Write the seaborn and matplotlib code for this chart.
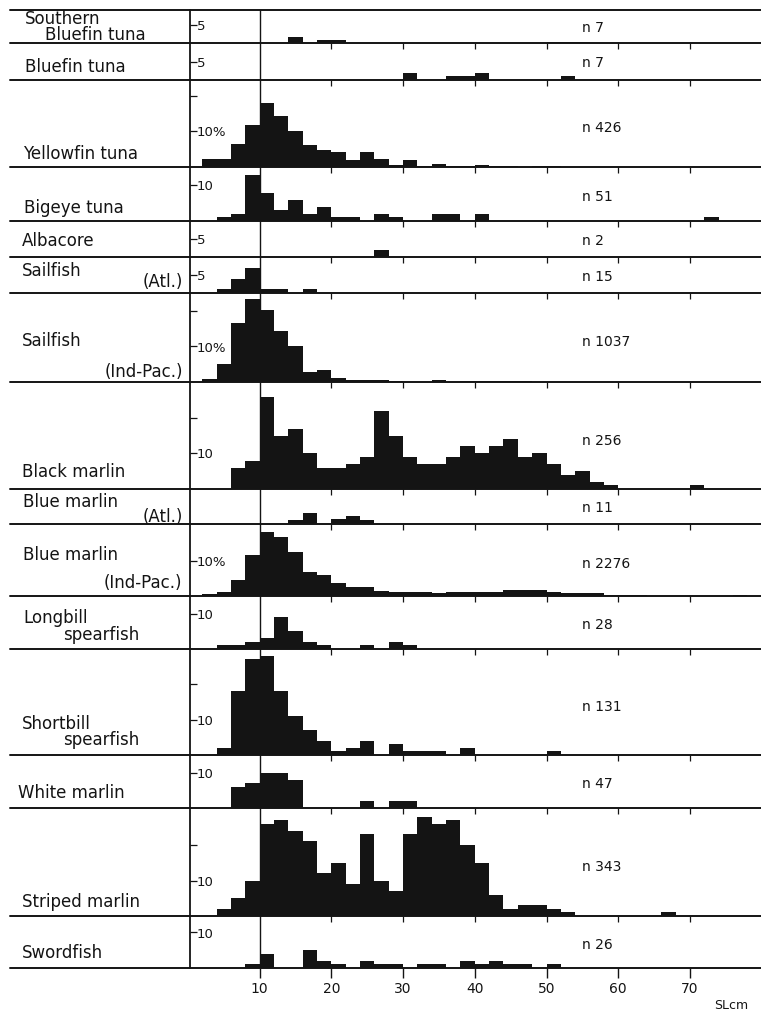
import numpy as np
import pandas as pd
import matplotlib.pyplot as plt
import seaborn as sns

# length classes are 2 cm wide, values are given at the class start (cm)
# small samples are counts, the three big ones ("10%") are percent
sbt_bins = [14, 18, 20, 50, 52, 54]
sbt_vals = [1.6, 0.8, 0.8, 0.4, 0.4, 0.4]

bft_bins = [30, 36, 38, 40, 52]
bft_vals = [2, 1, 1, 2, 1]

yft_bins = [2, 4, 6, 8, 10, 12, 14, 16, 18, 20, 22, 24, 26, 28, 30, 32, 34, 36, 38, 40, 42, 44, 48, 50]
yft_vals = [2.2, 2.2, 6.4, 11.8, 17.9, 14.4, 10.1, 6.2, 4.7, 4.1, 2.0, 4.1, 2.3, 0.6, 1.9, 0.3, 0.9,
            0.15, 0.15, 0.65, 0.2, 0.2, 0.3, 0.3]

bet_bins = [4, 6, 8, 10, 12, 14, 16, 18, 20, 22, 26, 28, 34, 36, 40, 72]
bet_vals = [1, 2, 13, 8, 3, 6, 2, 4, 1, 1, 2, 1, 2, 2, 2, 1]

alb_bins = [26]
alb_vals = [2]

sfa_bins = [4, 6, 8, 10, 12, 16]
sfa_vals = [1, 4, 7, 1, 1, 1]

sfp_bins = [2, 4, 6, 8, 10, 12, 14, 16, 18, 20, 22, 24, 26, 28, 30, 32, 34, 36, 38, 40, 42, 44, 46]
sfp_vals = [0.9, 5.1, 16.7, 23.3, 20.3, 14.5, 10.0, 2.9, 3.4, 1.2, 0.6, 0.6, 0.6, 0.4, 0.1, 0.1,
            0.6, 0.1, 0.3, 0.3, 0.3, 0.3, 0.3]

blm_bins = [6, 8, 10, 12, 14, 16, 18, 20, 22, 24, 26, 28, 30, 32, 34, 36, 38, 40, 42, 44, 46, 48,
            50, 52, 54, 56, 58, 70]
blm_vals = [6, 8, 26, 15, 17, 10, 6, 6, 7, 9, 22, 15, 9, 7, 7, 9, 12, 10, 12, 14, 9, 10,
            7, 4, 5, 2, 1, 1]

bma_bins = [14, 16, 20, 22, 24]
bma_vals = [1, 3, 1.3, 2.2, 1]

bmp_bins = [2, 4, 6, 8, 10, 12, 14, 16, 18, 20, 22, 24, 26, 28, 30, 32, 34, 36, 38, 40, 42,
            44, 46, 48, 50, 52, 54, 56, 58, 60, 62, 76]
bmp_vals = [0.6, 1.2, 4.5, 11.5, 18.1, 16.7, 12.3, 6.7, 5.8, 3.8, 2.6, 2.6, 1.5, 1.0, 1.0, 1.0,
            0.75, 1.2, 1.2, 1.2, 1.2, 1.6, 1.6, 1.6, 1.0, 0.75, 0.9, 0.9, 0.3, 0.3, 0.3, 0.4]

lsf_bins = [4, 6, 8, 10, 12, 14, 16, 18, 24, 28, 30]
lsf_vals = [1, 1, 2, 3, 9, 5, 2, 1, 1, 2, 1]

ssf_bins = [4, 6, 8, 10, 12, 14, 16, 18, 20, 22, 24, 28, 30, 32, 34, 38, 50]
ssf_vals = [2, 18, 27, 28, 18, 11, 7, 4, 1, 2, 4, 3, 1, 1, 1, 2, 1]

whm_bins = [6, 8, 10, 12, 14, 24, 28, 30]
whm_vals = [6, 7, 10, 10, 8, 2, 2, 2]

stm_bins = [4, 6, 8, 10, 12, 14, 16, 18, 20, 22, 24, 26, 28, 30, 32, 34, 36, 38, 40, 42, 44,
            46, 48, 50, 52, 66]
stm_vals = [2, 5, 10, 26, 27, 24, 21, 12, 15, 9, 23, 10, 7, 23, 28, 26, 27, 20, 15, 6, 2,
            3, 3, 2, 1, 1]

swo_bins = [8, 10, 16, 18, 20, 24, 26, 28, 32, 34, 38, 40, 42, 44, 46, 50]
swo_vals = [1, 4, 5, 2, 1, 2, 1, 1, 1, 1, 2, 1, 2, 1, 1, 1]

n_values = [7, 7, 426, 51, 2, 15, 1037, 256, 11, 2276, 28, 131, 47, 343, 26]
ytick_text = ["5", "5", "10%", "10", "5", "5", "10%", "10", "", "10%", "10", "10", "10", "10", "10"]
x_ticks = [10, 20, 30, 40, 50, 60, 70]

all_bins = [sbt_bins, bft_bins, yft_bins, bet_bins, alb_bins, sfa_bins, sfp_bins, blm_bins,
            bma_bins, bmp_bins, lsf_bins, ssf_bins, whm_bins, stm_bins, swo_bins]
all_vals = [sbt_vals, bft_vals, yft_vals, bet_vals, alb_vals, sfa_vals, sfp_vals, blm_vals,
            bma_vals, bmp_vals, lsf_vals, ssf_vals, whm_vals, stm_vals, swo_vals]

# layout (pixels of the 761x1013 page)
W, H = 761, 1013
panel_px = [33, 37, 87, 54, 36, 36, 89, 107, 35, 72, 53, 106, 53, 108, 52]
px_per_unit = 3.55
top_px, bottom_px = 10, 968
ink = "#141414"

sns.set_theme(style="white")
plt.rcParams["font.family"] = ["DejaVu Sans"]

fig = plt.figure(figsize=(W / 100, H / 100), dpi=100)
gs = fig.add_gridspec(len(panel_px), 1, height_ratios=panel_px, left=190 / W, right=1.0,
                      top=1 - top_px / H, bottom=1 - bottom_px / H, hspace=0)

for i, (bins, vals) in enumerate(zip(all_bins, all_vals)):
    ax = fig.add_subplot(gs[i])
    ax.patch.set_visible(False)
    df = pd.DataFrame({"SL": np.array(bins, dtype=float) + 1, "w": np.array(vals, dtype=float)})
    sns.histplot(data=df, x="SL", weights="w", binwidth=2, binrange=(0, 80), stat="count",
                 color=ink, alpha=1, edgecolor=ink, linewidth=0, antialiased=False, ax=ax)
    ax.set_xlim(0.3, 79.9)
    ymax = panel_px[i] / px_per_unit
    ax.set_ylim(0, ymax)
    ax.set_xlabel("")
    ax.set_ylabel("")
    ax.axvline(10, color=ink, lw=1.0)
    for s in ["top", "right", "bottom"]:
        ax.spines[s].set_visible(False)
    ax.spines["left"].set_color(ink)
    ax.spines["left"].set_linewidth(1.3)

    # y ticks inside the panel, labels to the right of the tick
    first = 5 if ytick_text[i] == "5" else 10
    if ytick_text[i] == "":
        ax.set_yticks([])
    else:
        yt = [first] + ([20] if ymax > 21 else [])
        ax.set_yticks(yt)
        ax.set_yticklabels([ytick_text[i]] + [""] * (len(yt) - 1))
    ax.tick_params(axis="y", left=True, direction="in", length=5, width=0.9, color=ink,
                   pad=-5, labelsize=9.5, labelcolor=ink)
    for lab in ax.get_yticklabels():
        lab.set_horizontalalignment("left")

    if i < len(panel_px) - 1:
        ax.set_xticks(x_ticks[1:])
        ax.set_xticklabels([])
        ax.tick_params(axis="x", bottom=True, direction="out", length=4, width=0.9, color=ink)
    else:
        ax.set_xticks(x_ticks)
        ax.set_xticklabels([str(t) for t in x_ticks])
        ax.tick_params(axis="x", bottom=True, direction="out", length=7, width=1.0, color=ink,
                       pad=3, labelsize=10, labelcolor=ink)

    ax.text(55, 0.45, f"n {n_values[i]}", transform=ax.get_xaxis_transform(),
            va="center", ha="left", fontsize=10, color=ink)

# horizontal rules across the whole page (top border + every baseline)
rules = [top_px] + list(top_px + np.cumsum(panel_px))
for py in rules:
    fig.add_artist(plt.Line2D([10 / W, 1], [1 - py / H] * 2, color=ink, lw=1.4))

# species names in the left column
names = [
    ("Southern", 25, 24, "left"),
    ("Bluefin tuna", 45, 40.5, "left"),
    ("Bluefin tuna", 25, 72, "left"),
    ("Yellowfin tuna", 23, 159, "left"),
    ("Bigeye tuna", 24, 212.7, "left"),
    ("Albacore", 22, 245.7, "left"),
    ("Sailfish", 22, 275.7, "left"),
    ("(Atl.)", 183, 287, "right"),
    ("Sailfish", 22, 345.7, "left"),
    ("(Ind-Pac.)", 183, 376.7, "right"),
    ("Black marlin", 22, 477.3, "left"),
    ("Blue marlin", 23, 507.3, "left"),
    ("(Atl.)", 183, 522, "right"),
    ("Blue marlin", 23, 560, "left"),
    ("(Ind-Pac.)", 182, 588, "right"),
    ("Longbill", 23, 623.3, "left"),
    ("spearfish", 63, 640, "left"),
    ("Shortbill", 22, 729, "left"),
    ("spearfish", 63, 745, "left"),
    ("White marlin", 18, 798.3, "left"),
    ("Striped marlin", 22, 907.3, "left"),
    ("Swordfish", 22, 958.3, "left"),
]
for txt, x, y, ha in names:
    fig.text(x / W, 1 - y / H, txt, ha=ha, va="baseline", fontsize=12, color=ink)

fig.text(731 / W, 1 - 1005 / H, "SLcm", ha="center", va="center", fontsize=9, color=ink)

fig.savefig("out.png", dpi=100)
